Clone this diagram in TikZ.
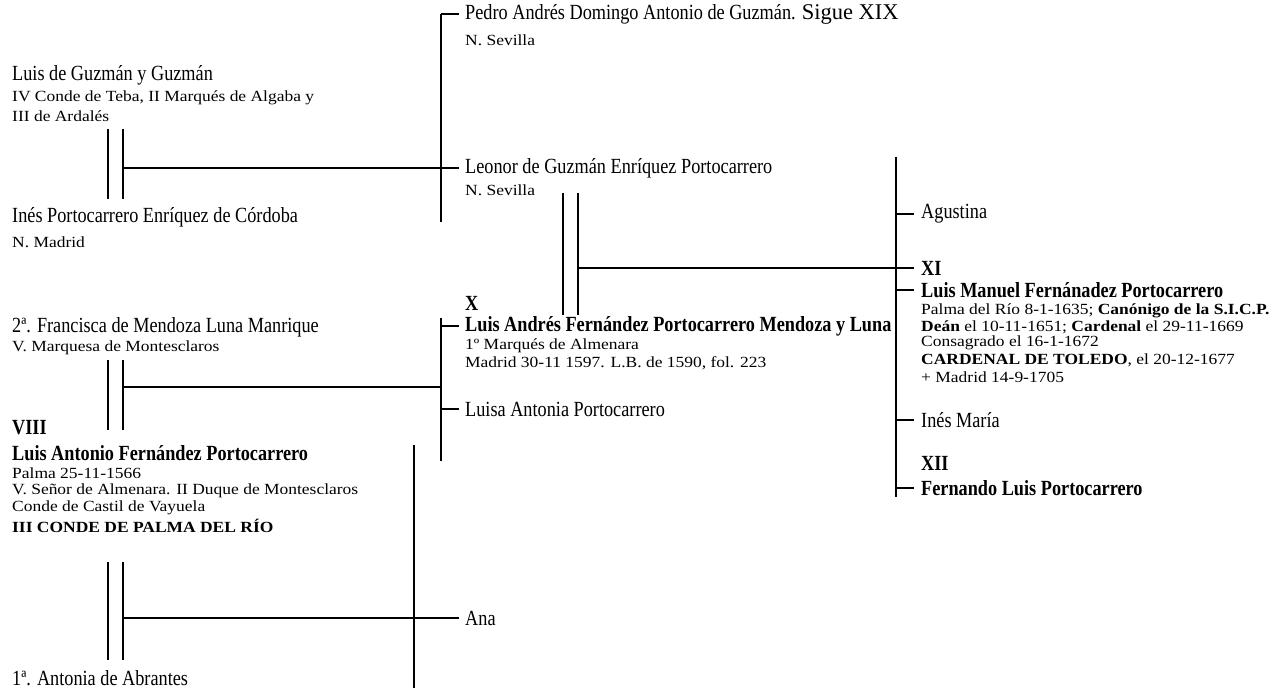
\documentclass[tikz,border=0pt]{standalone}
\usepackage{fontspec}
\setmainfont{Liberation Serif}
\newfontfamily\condfam[FakeStretch=0.845]{Liberation Serif}
\newfontfamily\bcondfam[FakeStretch=0.845]{Liberation Serif}
\newfontfamily\widefam[FakeStretch=1.127]{Liberation Serif}
\newcommand\nmfont{\fontsize{21.6}{24}\selectfont\condfam}
\newcommand\smfont{\fontsize{15.5}{17}\selectfont\widefam}
\newcommand\bnfont{\fontsize{21.6}{24}\selectfont\bcondfam\bfseries}
\begin{document}
\begin{tikzpicture}[x=1pt,y=-1pt,
  nm/.style={anchor=west,inner sep=0pt,font=\nmfont},
  sm/.style={anchor=west,inner sep=0pt,font=\smfont},
  bn/.style={anchor=west,inner sep=0pt,font=\bnfont},
  ln/.style={line width=1.1pt},
  tick/.style={line width=1.1pt}]
\useasboundingbox (0,0) rectangle (1280,690);
% left column
\node[nm] (luisg) at (12,75) {Luis de Guzmán y Guzmán};
\node[sm] (luisg1) at (12,98) {IV Conde de Teba, II Marqués de Algaba y};
\node[sm] (luisg2) at (12,116) {III de Ardalés};
\node[nm] (ines) at (12,217) {Inés Portocarrero Enríquez de Córdoba};
\node[sm] (ines1) at (12,242) {N. Madrid};
\node[nm] (fran) at (12,327) {2ª. Francisca de Mendoza Luna Manrique};
\node[sm] (fran1) at (12,348) {V. Marquesa de Montesclaros};
\node[bn] (viii) at (12,428) {VIII};
\node[bn] (luisA) at (12,453) {Luis Antonio Fernández Portocarrero};
\node[sm] (la1) at (12,473) {Palma 25-11-1566};
\node[sm] (la2) at (12,491) {V. Señor de Almenara. II Duque de Montesclaros};
\node[sm] (la3) at (12,508) {Conde de Castil de Vayuela};
\node[sm,font=\smfont\bfseries] (la4) at (12,526) {III CONDE DE PALMA DEL RÍO};
\node[nm] (anto) at (12,678) {1ª. Antonia de Abrantes};
% middle column
\node[nm] (pedro) at (465,14) {Pedro Andrés Domingo Antonio de Guzmán. {\fontsize{22.5}{24}\selectfont\rmfamily Sigue XIX}};
\node[sm] (pedro1) at (465,40) {N. Sevilla};
\node[nm] (leonor) at (465,168) {Leonor de Guzmán Enríquez Portocarrero};
\node[sm] (leonor1) at (465,190) {N. Sevilla};
\node[bn] (x) at (465,303) {X};
\node[bn] (luisAn) at (465,326) {Luis Andrés Fernández Portocarrero Mendoza y Luna};
\node[sm] (lan1) at (465,346) {1º Marqués de Almenara};
\node[sm] (lan2) at (465,363) {Madrid 30-11 1597. L.B. de 1590, fol. 223};
\node[nm] (luisa) at (465,409) {Luisa Antonia Portocarrero};
\node[nm] (ana) at (465,618) {Ana};
% right column
\node[nm] (agus) at (921,214) {Agustina};
\node[bn] (xi) at (921,268) {XI};
\node[bn] (lm) at (921,290) {Luis Manuel Fernánadez Portocarrero};
\node[sm] (lm1) at (921,311) {Palma del Río 8-1-1635; \textbf{Canónigo de la S.I.C.P.}};
\node[sm] (lm2) at (921,327) {\textbf{Deán} el 10-11-1651; \textbf{Cardenal} el 29-11-1669};
\node[sm] (lm3) at (921,343) {Consagrado el 16-1-1672};
\node[sm] (lm4) at (921,360) {\textbf{CARDENAL DE TOLEDO}, el 20-12-1677};
\node[sm] (lm5) at (921,377) {+ Madrid 14-9-1705};
\node[nm] (inesm) at (921,420) {Inés María};
\node[bn] (xii) at (921,463) {XII};
\node[bn] (fer) at (921,488) {Fernando Luis Portocarrero};
% vertical bars
\coordinate (v1t) at (441,14);  \coordinate (v1b) at (441,222);
\coordinate (v2t) at (441,318); \coordinate (v2b) at (441,461);
\coordinate (v3t) at (896,157); \coordinate (v3b) at (896,497);
\coordinate (v4t) at (414,445); \coordinate (v4b) at (414,688);
\draw[ln] (v1t) -- (v1b);
\draw[ln] (v2t) -- (v2b);
\draw[ln] (v3t) -- (v3b);
\draw[ln] (v4t) -- (v4b);
% ticks
\draw[tick] (v1t) -- ([xshift=-6pt]pedro.west);
\draw[tick] (v2t |- luisAn.west) -- ([xshift=-6pt]luisAn.west);
\draw[tick] (v2t |- luisa.west) -- ([xshift=-6pt]luisa.west);
\draw[tick] (v3t |- agus.west) -- ([xshift=-7pt]agus.west);
\draw[tick] (v3t |- lm.west) -- ([xshift=-7pt]lm.west);
\draw[tick] (v3t |- inesm.west) -- ([xshift=-7pt]inesm.west);
\draw[tick] (v3t |- fer.west) -- ([xshift=-7pt]fer.west);
% marriages
\coordinate (m1a) at (108,129); \coordinate (m1b) at (108,199);
\draw[ln] (m1a) -- (m1b);
\draw[ln] ([xshift=15pt]m1a) -- ([xshift=15pt]m1b);
\draw[ln] (123,168) -- ([xshift=-6pt]leonor.west);
\coordinate (m2a) at (563,193); \coordinate (m2b) at (563,315);
\draw[ln] (m2a) -- (m2b);
\draw[ln] ([xshift=15pt]m2a) -- ([xshift=15pt]m2b);
\draw[ln] (578,268) -- ([xshift=-7pt]xi.west);
\coordinate (m3a) at (108,360); \coordinate (m3b) at (108,430);
\draw[ln] (m3a) -- (m3b);
\draw[ln] ([xshift=15pt]m3a) -- ([xshift=15pt]m3b);
\draw[ln] (123,387) -- (v2t |- 0,387);
\coordinate (m4a) at (108,562); \coordinate (m4b) at (108,660);
\draw[ln] (m4a) -- (m4b);
\draw[ln] ([xshift=15pt]m4a) -- ([xshift=15pt]m4b);
\draw[ln] (123,618) -- ([xshift=-6pt]ana.west);
\end{tikzpicture}
\end{document}
